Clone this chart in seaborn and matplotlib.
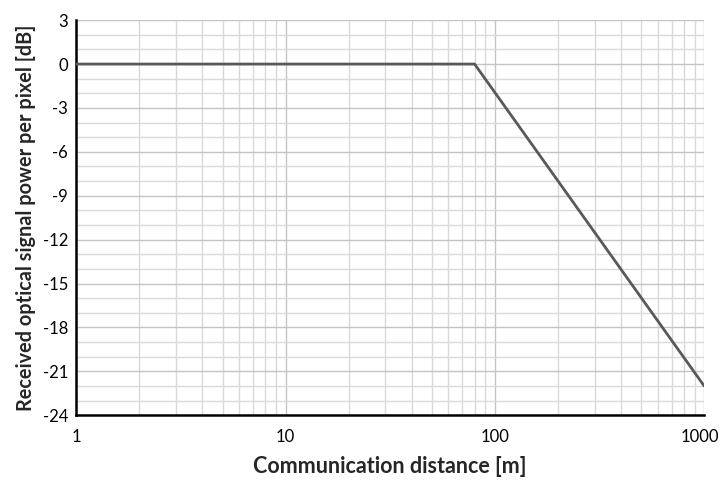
import matplotlib
matplotlib.use("Agg")
import matplotlib.pyplot as plt
import matplotlib.ticker as mticker
import matplotlib.transforms as mtransforms
import numpy as np
import pandas as pd
import seaborn as sns

# Received power vs. distance: flat, then 20 dB/decade roll-off
distance_m = [1, 80, 1000]
power_db = [0, 0, -22]

y_ticks = [3, 0, -3, -6, -9, -12, -15, -18, -21, -24]
x_ticks = [1, 10, 100, 1000]
x_tick_labels = ["1", "10", "100", "1000"]

sns.set_theme(style="white")
plt.rcParams["font.family"] = ["Lato", "DejaVu Sans"]
plt.rcParams["axes.unicode_minus"] = False

df = pd.DataFrame({"distance": distance_m, "power": power_db})

fig = plt.figure(figsize=(7.2, 4.8), dpi=100)
ax = fig.add_axes([0.106, 0.135, 0.872, 0.823])

ax.set_xscale("log")
ax.set_xlim(1, 1000)
ax.set_ylim(-24, 3)

ax.xaxis.set_major_locator(mticker.FixedLocator(x_ticks))
ax.xaxis.set_major_formatter(mticker.FixedFormatter(x_tick_labels))
ax.xaxis.set_minor_locator(mticker.LogLocator(base=10, subs=np.arange(2, 10)))
ax.xaxis.set_minor_formatter(mticker.NullFormatter())
ax.yaxis.set_major_locator(mticker.FixedLocator(y_ticks))
ax.yaxis.set_minor_locator(mticker.MultipleLocator(1))

ax.grid(which="major", color="#c4c4c4", linewidth=1.0)
ax.grid(which="minor", color="#d9d9d9", linewidth=1.0)
ax.set_axisbelow(True)

sns.lineplot(data=df, x="distance", y="power", ax=ax, color="#595959",
             linewidth=2.0, zorder=3)

for side in ("top", "right"):
    ax.spines[side].set_visible(False)
for side in ("left", "bottom"):
    ax.spines[side].set_color("#000000")
    ax.spines[side].set_linewidth(1.8)

ax.tick_params(axis="both", which="major", labelsize=12, colors="#000000",
               length=4, width=1.2)
ax.tick_params(axis="x", which="major", direction="in", pad=10)
ax.tick_params(axis="y", which="major", direction="out", pad=2)
ax.tick_params(which="minor", length=0)

# keep the last x label inside the figure edge
last = ax.get_xticklabels()[-1]
last.set_transform(last.get_transform()
                   + mtransforms.ScaledTranslation(-3 / 72, 0, fig.dpi_scale_trans))

ax.set_xlabel("Communication distance [m]", fontsize=15.5, fontweight="bold",
              labelpad=8)
ax.set_ylabel("Received optical signal power per pixel [dB]", fontsize=14.3,
              fontweight="bold", labelpad=5)

fig.savefig("out.png", dpi=100)
